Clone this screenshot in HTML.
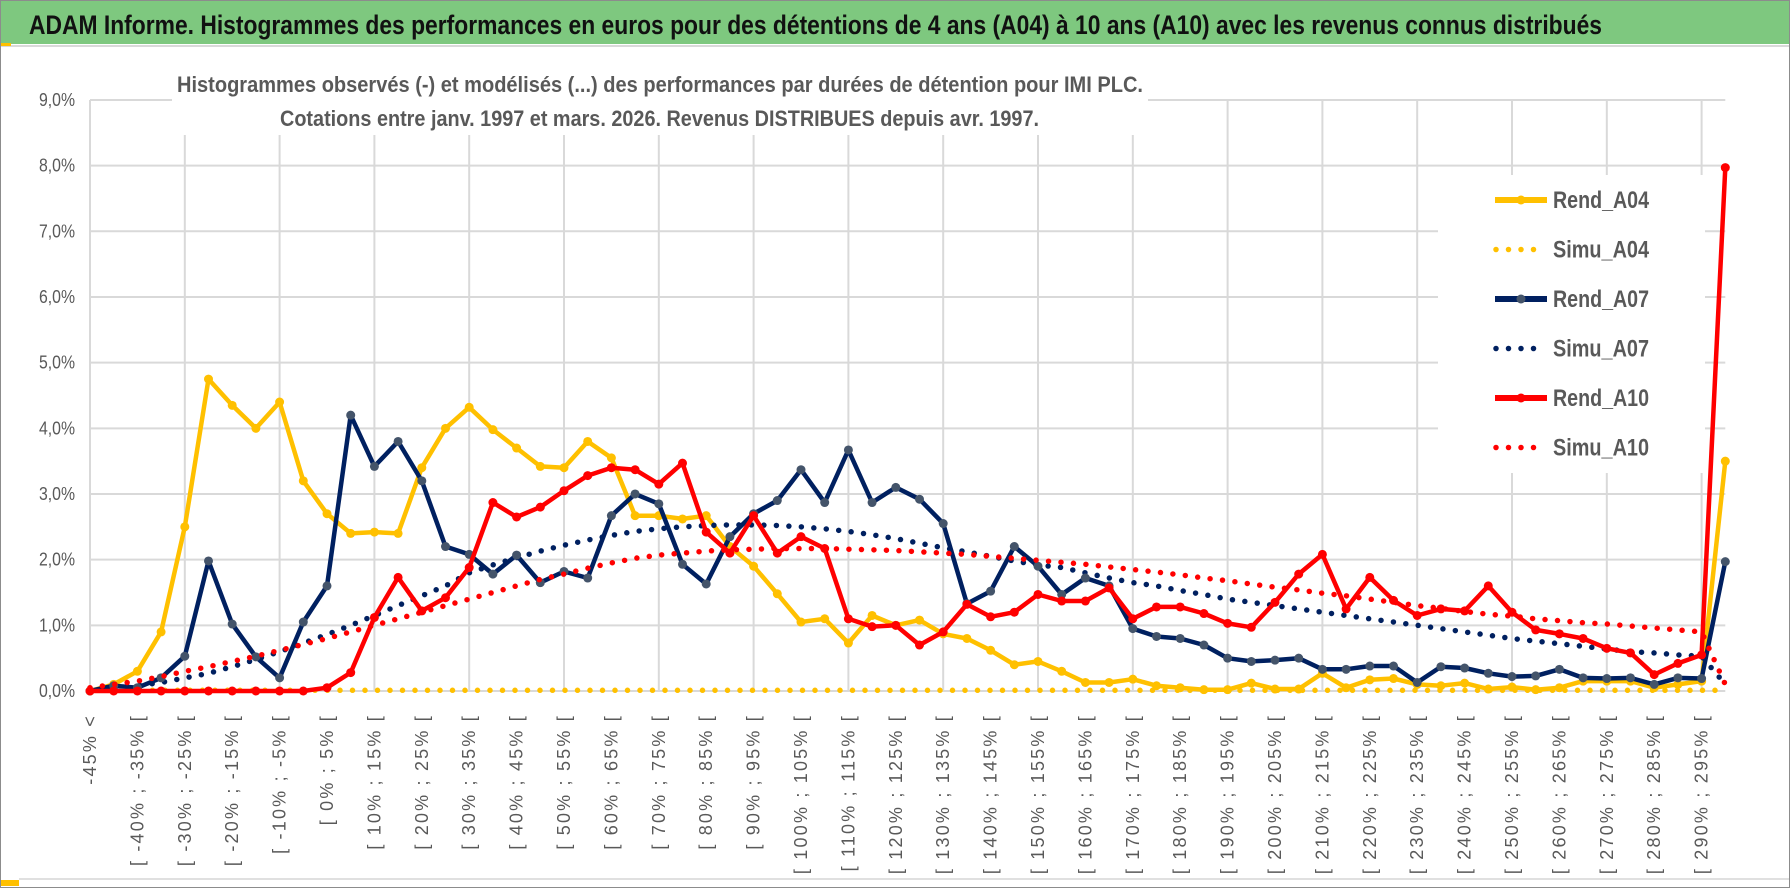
<!DOCTYPE html>
<html><head><meta charset="utf-8"><style>
html,body{margin:0;padding:0;background:#fff;}
svg{display:block;font-family:"Liberation Sans",sans-serif;}
</style></head><body>
<svg id="chart" width="1790" height="888" viewBox="0 0 1790 888" xmlns="http://www.w3.org/2000/svg">
<rect x="0.5" y="0.5" width="1789" height="887" fill="#fff" stroke="#8c8c8c"/>
<rect x="1" y="1" width="1788" height="43" fill="#7ec87f"/>
<line x1="1" y1="46" x2="1789" y2="46" stroke="#d9d9d9" stroke-width="2"/>
<rect x="1" y="43" width="10" height="3" fill="#ffc000"/>
<rect x="1" y="880" width="18" height="6" fill="#ffc000"/>
<line x1="19" y1="879" x2="1789" y2="879" stroke="#e0e0e0" stroke-width="2"/>
<text x="29" y="34" font-size="27" font-weight="bold" fill="#111" textLength="1573" lengthAdjust="spacingAndGlyphs">ADAM Informe. Histogrammes des performances en euros pour des détentions de 4 ans (A04) à 10 ans (A10) avec les revenus connus distribués</text>
<g id="grid"></g>
<g id="yaxis"></g>
<g id="xaxis"></g>
<rect x="172" y="66" width="976" height="69" fill="#fff"/>
<text x="177" y="92" font-size="22" font-weight="bold" fill="#595959" textLength="966" lengthAdjust="spacingAndGlyphs">Histogrammes observés (-) et modélisés (...) des performances par durées de détention pour IMI PLC.</text>
<text x="280" y="126" font-size="22" font-weight="bold" fill="#595959" textLength="759" lengthAdjust="spacingAndGlyphs">Cotations entre janv. 1997 et mars. 2026. Revenus DISTRIBUES depuis avr. 1997.</text>
<g id="series"></g>
<g id="legend"></g>
</svg>
<script>
const categories = [];
for (let i = 0; i < 70; i++) {
  categories.push(i === 0 ? "-45% <" : "[ " + (-50 + 5 * i) + "% ; " + (-45 + 5 * i) + "% [");
}
const yTicks = [0,1,2,3,4,5,6,7,8,9];
const yTickLabels = ["0,0%","1,0%","2,0%","3,0%","4,0%","5,0%","6,0%","7,0%","8,0%","9,0%"];
const rendA04 = [0,0.1,0.3,0.9,2.5,4.75,4.35,4.0,4.4,3.2,2.7,2.4,2.42,2.4,3.4,4.0,4.32,3.98,3.7,3.42,3.4,3.8,3.55,2.67,2.67,2.62,2.67,2.2,1.9,1.48,1.05,1.1,0.73,1.15,1.0,1.08,0.87,0.8,0.62,0.4,0.45,0.3,0.13,0.13,0.18,0.08,0.05,0.02,0.02,0.12,0.03,0.03,0.27,0.05,0.17,0.19,0.1,0.08,0.12,0.03,0.06,0.02,0.05,0.15,0.15,0.15,0.05,0.1,0.15,3.5];
const simuA04 = new Array(70).fill(0.01);
const rendA07 = [0,0.08,0.05,0.2,0.53,1.98,1.02,0.52,0.2,1.05,1.6,4.2,3.42,3.8,3.2,2.2,2.08,1.78,2.07,1.65,1.82,1.72,2.67,3.0,2.85,1.93,1.63,2.35,2.7,2.9,3.37,2.87,3.67,2.87,3.1,2.92,2.55,1.33,1.52,2.2,1.9,1.47,1.72,1.6,0.95,0.83,0.8,0.7,0.5,0.45,0.47,0.5,0.33,0.33,0.38,0.38,0.13,0.37,0.35,0.27,0.22,0.23,0.33,0.2,0.19,0.2,0.1,0.2,0.19,1.97];
const simuA07 = [0.02,0.04,0.08,0.13,0.2,0.27,0.37,0.48,0.6,0.73,0.86,1.0,1.15,1.3,1.45,1.6,1.8,1.92,2.03,2.13,2.22,2.3,2.37,2.43,2.47,2.5,2.52,2.53,2.53,2.52,2.5,2.47,2.43,2.38,2.32,2.25,2.18,2.12,2.05,1.98,1.92,1.88,1.8,1.72,1.65,1.6,1.53,1.47,1.4,1.35,1.3,1.25,1.2,1.15,1.1,1.05,1.0,0.95,0.9,0.85,0.8,0.76,0.72,0.68,0.64,0.6,0.58,0.55,0.53,0.1];
const rendA10 = [0,0,0,0,0,0,0,0,0,0,0.05,0.28,1.12,1.73,1.22,1.42,1.88,2.87,2.65,2.8,3.05,3.28,3.4,3.37,3.15,3.47,2.42,2.1,2.67,2.1,2.35,2.17,1.1,0.98,1.0,0.7,0.9,1.32,1.13,1.2,1.47,1.37,1.37,1.57,1.1,1.28,1.28,1.18,1.03,0.97,1.35,1.78,2.08,1.25,1.73,1.38,1.15,1.25,1.22,1.6,1.2,0.93,0.87,0.8,0.65,0.58,0.25,0.42,0.55,7.97];
const simuA10 = [0.05,0.1,0.15,0.22,0.3,0.37,0.45,0.53,0.62,0.71,0.8,0.9,1.0,1.1,1.2,1.3,1.4,1.5,1.6,1.7,1.78,1.87,1.95,2.02,2.07,2.1,2.13,2.15,2.16,2.17,2.17,2.17,2.16,2.15,2.14,2.12,2.1,2.08,2.05,2.02,1.99,1.96,1.93,1.89,1.85,1.81,1.77,1.72,1.68,1.63,1.58,1.54,1.49,1.45,1.4,1.35,1.3,1.26,1.21,1.17,1.14,1.1,1.07,1.04,1.02,0.99,0.96,0.93,0.9,0.1];

const NS = "http://www.w3.org/2000/svg";
const X0 = 90, XSTEP = 23.7, Y0 = 691, YPER = 65.67;
function xPos(i){ return X0 + i * XSTEP; }
function yPos(v){ return Y0 - v * YPER; }
function mk(tag, attrs, parent){
  const e = document.createElementNS(NS, tag);
  for (const k in attrs) e.setAttribute(k, attrs[k]);
  parent.appendChild(e); return e;
}
const grid = document.getElementById('grid');
const yaxis = document.getElementById('yaxis');
const xaxis = document.getElementById('xaxis');
const series = document.getElementById('series');
const legend = document.getElementById('legend');
const xEnd = xPos(categories.length - 1);

yTicks.forEach((t, k) => {
  const gl = mk('line', {x1:X0, x2:xEnd, y1:yPos(t), y2:yPos(t), stroke:'#d9d9d9', 'stroke-width':2}, grid);
  
  
  const lb = mk('text', {x:75, y:yPos(t)+6, 'font-size':18, fill:'#595959', 'text-anchor':'end', textLength:36, lengthAdjust:'spacingAndGlyphs'}, yaxis);
  lb.textContent = yTickLabels[k];
  
  
});
for (let i = 0; i < categories.length; i += 4) {
  const gl = mk('line', {x1:xPos(i), x2:xPos(i), y1:yPos(9), y2:Y0, stroke:'#d9d9d9', 'stroke-width':2}, grid);
  
  
}
categories.forEach((c, i) => {
  if (i % 2 !== 0) return;
  const x = xPos(i) + 6, y = 714;
  const lb = mk('text', {x:x, y:y, 'font-size':18, fill:'#595959', 'text-anchor':'end', 'letter-spacing':'2.2', transform:'rotate(-90 '+x+' '+y+')'}, xaxis);
  lb.textContent = c;
  
  
});

function drawDotted(vals, color, name){
  const d = vals.map((v,i)=>(i?'L':'M')+xPos(i).toFixed(1)+' '+yPos(v).toFixed(1)).join(' ');
  const p = mk('path', {d:d, fill:'none', stroke:color, 'stroke-width':5.5, 'stroke-linecap':'round', 'stroke-dasharray':'0 12.5'}, series);
  
  
}
function drawLine(vals, color, mcolor, name){
  const d = vals.map((v,i)=>(i?'L':'M')+xPos(i).toFixed(1)+' '+yPos(v).toFixed(1)).join(' ');
  const p = mk('path', {d:d, fill:'none', stroke:color, 'stroke-width':4.5, 'stroke-linejoin':'round'}, series);
  
  
  vals.forEach((v,i)=>{
    const c = mk('circle', {cx:xPos(i), cy:yPos(v), r:4.5, fill:mcolor}, series);
    
    
  });
}
drawDotted(simuA04, '#ffc000', 'simu-a04-line');
drawLine(rendA04, '#ffc000', '#ffc000', 'rend-a04-line');
drawDotted(simuA07, '#002060', 'simu-a07-line');
drawLine(rendA07, '#002060', '#44546a', 'rend-a07-line');
drawDotted(simuA10, '#ff0000', 'simu-a10-line');
drawLine(rendA10, '#ff0000', '#ff0000', 'rend-a10-line');

const lbg = mk('rect', {x:1438, y:175, width:267, height:298, fill:'#fff'}, legend);


const legItems = [
  ['Rend_A04','#ffc000','#ffc000',false],
  ['Simu_A04','#ffc000','#ffc000',true],
  ['Rend_A07','#002060','#44546a',false],
  ['Simu_A07','#002060','#002060',true],
  ['Rend_A10','#ff0000','#ff0000',false],
  ['Simu_A10','#ff0000','#ff0000',true]
];
legItems.forEach((it, k) => {
  const y = 200 + k * 49.5;
  const g = mk('g', {}, legend);
  
  
  if (it[3]) {
    mk('line', {x1:1496, x2:1546, y1:y, y2:y, stroke:it[1], 'stroke-width':5.5, 'stroke-linecap':'round', 'stroke-dasharray':'0 12.5'}, g);
  } else {
    mk('line', {x1:1495, x2:1547, y1:y, y2:y, stroke:it[1], 'stroke-width':6}, g);
    mk('circle', {cx:1521, cy:y, r:4.5, fill:it[2]}, g);
  }
  const t = mk('text', {x:1553, y:y+8, 'font-size':24, 'font-weight':'bold', fill:'#595959', textLength:96, lengthAdjust:'spacingAndGlyphs'}, g);
  t.textContent = it[0];
});
</script>
</body></html>
